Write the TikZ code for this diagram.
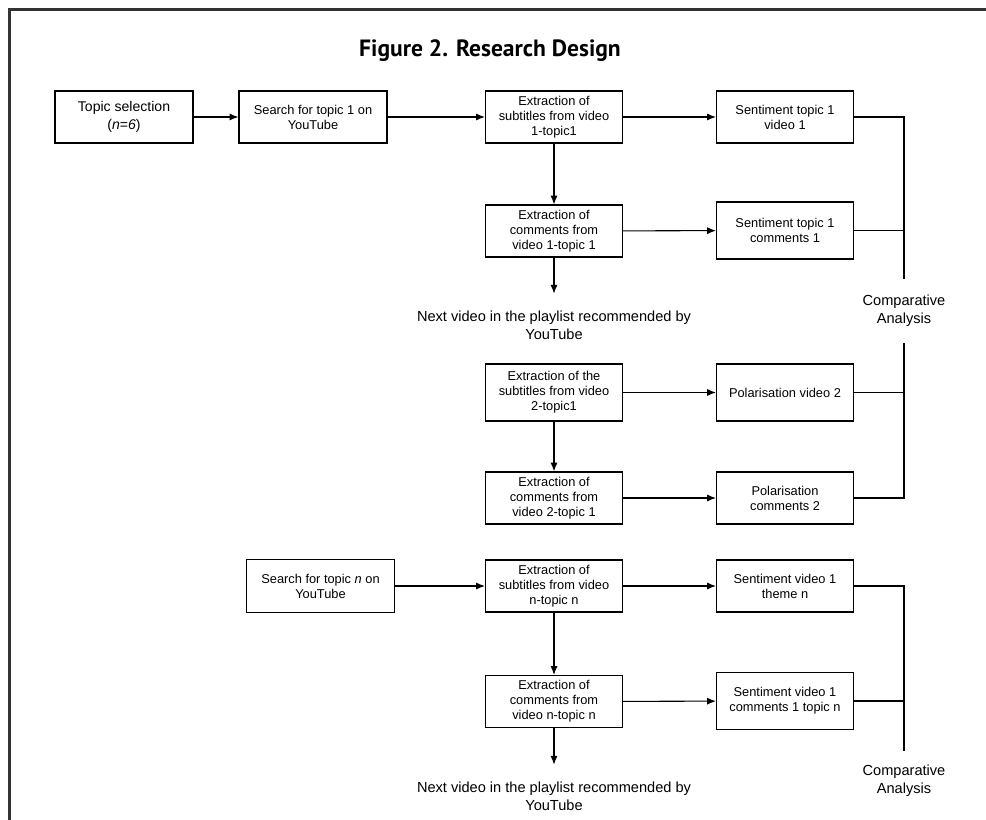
\documentclass[tikz,border=0pt]{standalone}
\usepackage{fontspec}
\setmainfont{Liberation Sans}
\newfontfamily\TitleFont{PT Sans}
\usetikzlibrary{arrows.meta,calc}
\tikzset{
  box/.style={draw, line width=0.7pt, align=center, minimum width=2.74cm, minimum height=1.04cm, inner sep=1pt, font=\fontsize{7.3}{8.6}\selectfont},
  tallbox/.style={box, minimum height=1.14cm},
  widebox/.style={box, minimum width=2.96cm},
  note/.style={align=center, inner xsep=0pt, inner ysep=9.5pt, font=\fontsize{8.3}{10.2}\selectfont},
  flow/.style={line width=0.6pt, -{Latex[length=5pt,width=4pt]}},
  link/.style={line width=0.6pt}
}
\newcommand{\FlowArrows}[1]{\foreach \a/\b in {#1}{\draw[flow] (\a) -- (\b);}}
\newcommand{\JoinLines}[1]{\foreach \a/\b in {#1}{\draw[link] (\a.east) -- (\a.east -| \b);}}
\begin{document}
\begin{tikzpicture}[x=0.02cm,y=-0.02cm]
\useasboundingbox (0,0) rectangle (986,820);
\draw[line width=1.4pt, black!80] (9.5,820) |- (986,9.5);
\node[font=\TitleFont\bfseries\fontsize{13.4}{16}\selectfont] (title) at (490,51) {Figure 2. Research Design};
\node[box, minimum width=2.76cm, font=\fontsize{8}{10}\selectfont] (topic) at (124,117) {Topic selection\\(\textit{n}=\textit{6})};
\node[widebox] (search1) at (313,117) {Search for topic 1 on\\YouTube};
\node[box] (e1) at (554,117) {Extraction of\\subtitles from video\\1-topic1};
\node[box] (s1) at (785,117) {Sentiment topic 1\\video 1};
\node[box] (e2) at (554,231) {Extraction of\\comments from\\video 1-topic 1};
\node[tallbox] (s2) at (785,230.5) {Sentiment topic 1\\comments 1};
\node[note] (nx1) at (554,325) {Next video in the playlist recommended by\\YouTube};
\node[note, inner ysep=9pt] (ca1) at (904,311) {Comparative\\Analysis};
\node[tallbox] (f1) at (554,392.5) {Extraction of the\\subtitles from video\\2-topic1};
\node[tallbox] (p1) at (785,392.5) {Polarisation video 2};
\node[box] (f2) at (554,498) {Extraction of\\comments from\\video 2-topic 1};
\node[box] (p2) at (785,498) {Polarisation\\comments 2};
\node[widebox, minimum height=1.06cm] (searchn) at (320.5,586) {Search for topic \textit{n} on\\YouTube};
\node[box] (en1) at (554,586) {Extraction of\\subtitles from video\\n-topic n};
\node[box] (sn1) at (785,586) {Sentiment video 1\\theme n};
\node[box] (en2) at (554,701.5) {Extraction of\\comments from\\video n-topic n};
\node[tallbox] (sn2) at (785,701) {Sentiment video 1\\comments 1 topic n};
\node[note] (nx2) at (554,796) {Next video in the playlist recommended by\\YouTube};
\node[note, inner ysep=8pt] (ca2) at (904,781) {Comparative\\Analysis};
\FlowArrows{topic/search1, search1/e1, e1/s1, e1/e2, e2/s2, e2/nx1, f1/p1, f1/f2, f2/p2, searchn/en1, en1/sn1, en1/en2, en2/sn2, en2/nx2}
\draw[link] (s1.east) -| (ca1.north);
\draw[link] (p2.east) -| (ca1.south);
\draw[link] (sn1.east) -| (ca2.north);
\JoinLines{s2/ca1.north, p1/ca1.south, sn2/ca2.north}
\end{tikzpicture}
\end{document}
